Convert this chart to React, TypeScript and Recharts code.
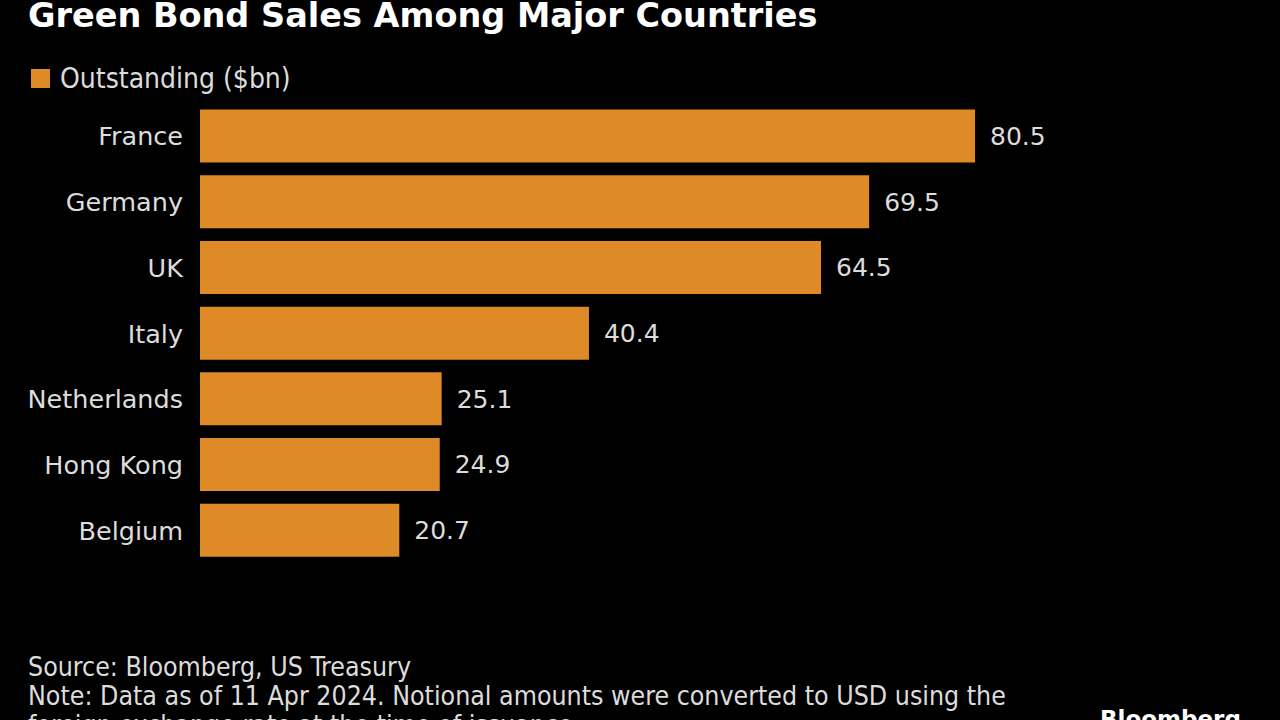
import { BarChart, Bar, XAxis, YAxis, LabelList } from "recharts"

const countries = ["France", "Germany", "UK", "Italy", "Netherlands", "Hong Kong", "Belgium"]
const outstanding = [80.5, 69.5, 64.5, 40.4, 25.1, 24.9, 20.7]

const data = countries.map((name, i) => ({ name, outstanding: outstanding[i] }))

const ORANGE = "#DE8A26"
const LABEL = "#dcdcdc"
const FONT = "'DejaVu Sans', Verdana, sans-serif"
const COND = "'DejaVu Sans Condensed', 'DejaVu Sans', sans-serif"

export default function App() {
  return (
    <div
      style={{
        position: "absolute",
        left: 0,
        top: 0,
        width: 1280,
        height: 720,
        background: "#000",
        overflow: "hidden",
        fontFamily: FONT,
      }}
    >
      <div
        style={{
          position: "absolute",
          left: 28,
          top: -4,
          color: "#fff",
          fontWeight: "bold",
          fontSize: 33.5,
          whiteSpace: "nowrap",
        }}
      >
        Green Bond Sales Among Major Countries
      </div>

      {/* legend */}
      <div style={{ position: "absolute", left: 31, top: 62, display: "flex", alignItems: "center" }}>
        <div style={{ width: 19, height: 19, background: ORANGE, marginRight: 10 }} />
        <span style={{ color: LABEL, fontSize: 28, fontFamily: COND }}>Outstanding ($bn)</span>
      </div>

      <BarChart
        width={1280}
        height={720}
        layout="vertical"
        data={data}
        margin={{ top: 103.5, bottom: 156.5, left: 0, right: 213.5 }}
      >
        <XAxis type="number" domain={[0, 90]} hide />
        <YAxis
          type="category"
          dataKey="name"
          width={200}
          axisLine={false}
          tickLine={false}
          tickSize={0}
          tickMargin={17}
          tick={{ fill: LABEL, fontSize: 25.5, fontFamily: FONT }}
        />
        <Bar dataKey="outstanding" fill={ORANGE} barSize={53} isAnimationActive={false}>
          <LabelList
            dataKey="outstanding"
            position="right"
            offset={15}
            fill={LABEL}
            fontSize={25}
            fontFamily={FONT}
          />
        </Bar>
      </BarChart>

      <div
        style={{
          position: "absolute",
          left: 28,
          top: 652,
          color: LABEL,
          fontFamily: COND,
          fontSize: 26.5,
          lineHeight: "29px",
          whiteSpace: "nowrap",
        }}
      >
        <div>Source: Bloomberg, US Treasury</div>
        <div>Note: Data as of 11 Apr 2024. Notional amounts were converted to USD using the</div>
        <div>foreign exchange rate at the time of issuance.</div>
      </div>
      <div
        style={{
          position: "absolute",
          left: 1100,
          top: 706,
          color: "#fff",
          fontWeight: "bold",
          fontSize: 23,
          fontFamily: FONT,
        }}
      >
        Bloomberg
      </div>
    </div>
  )
}
